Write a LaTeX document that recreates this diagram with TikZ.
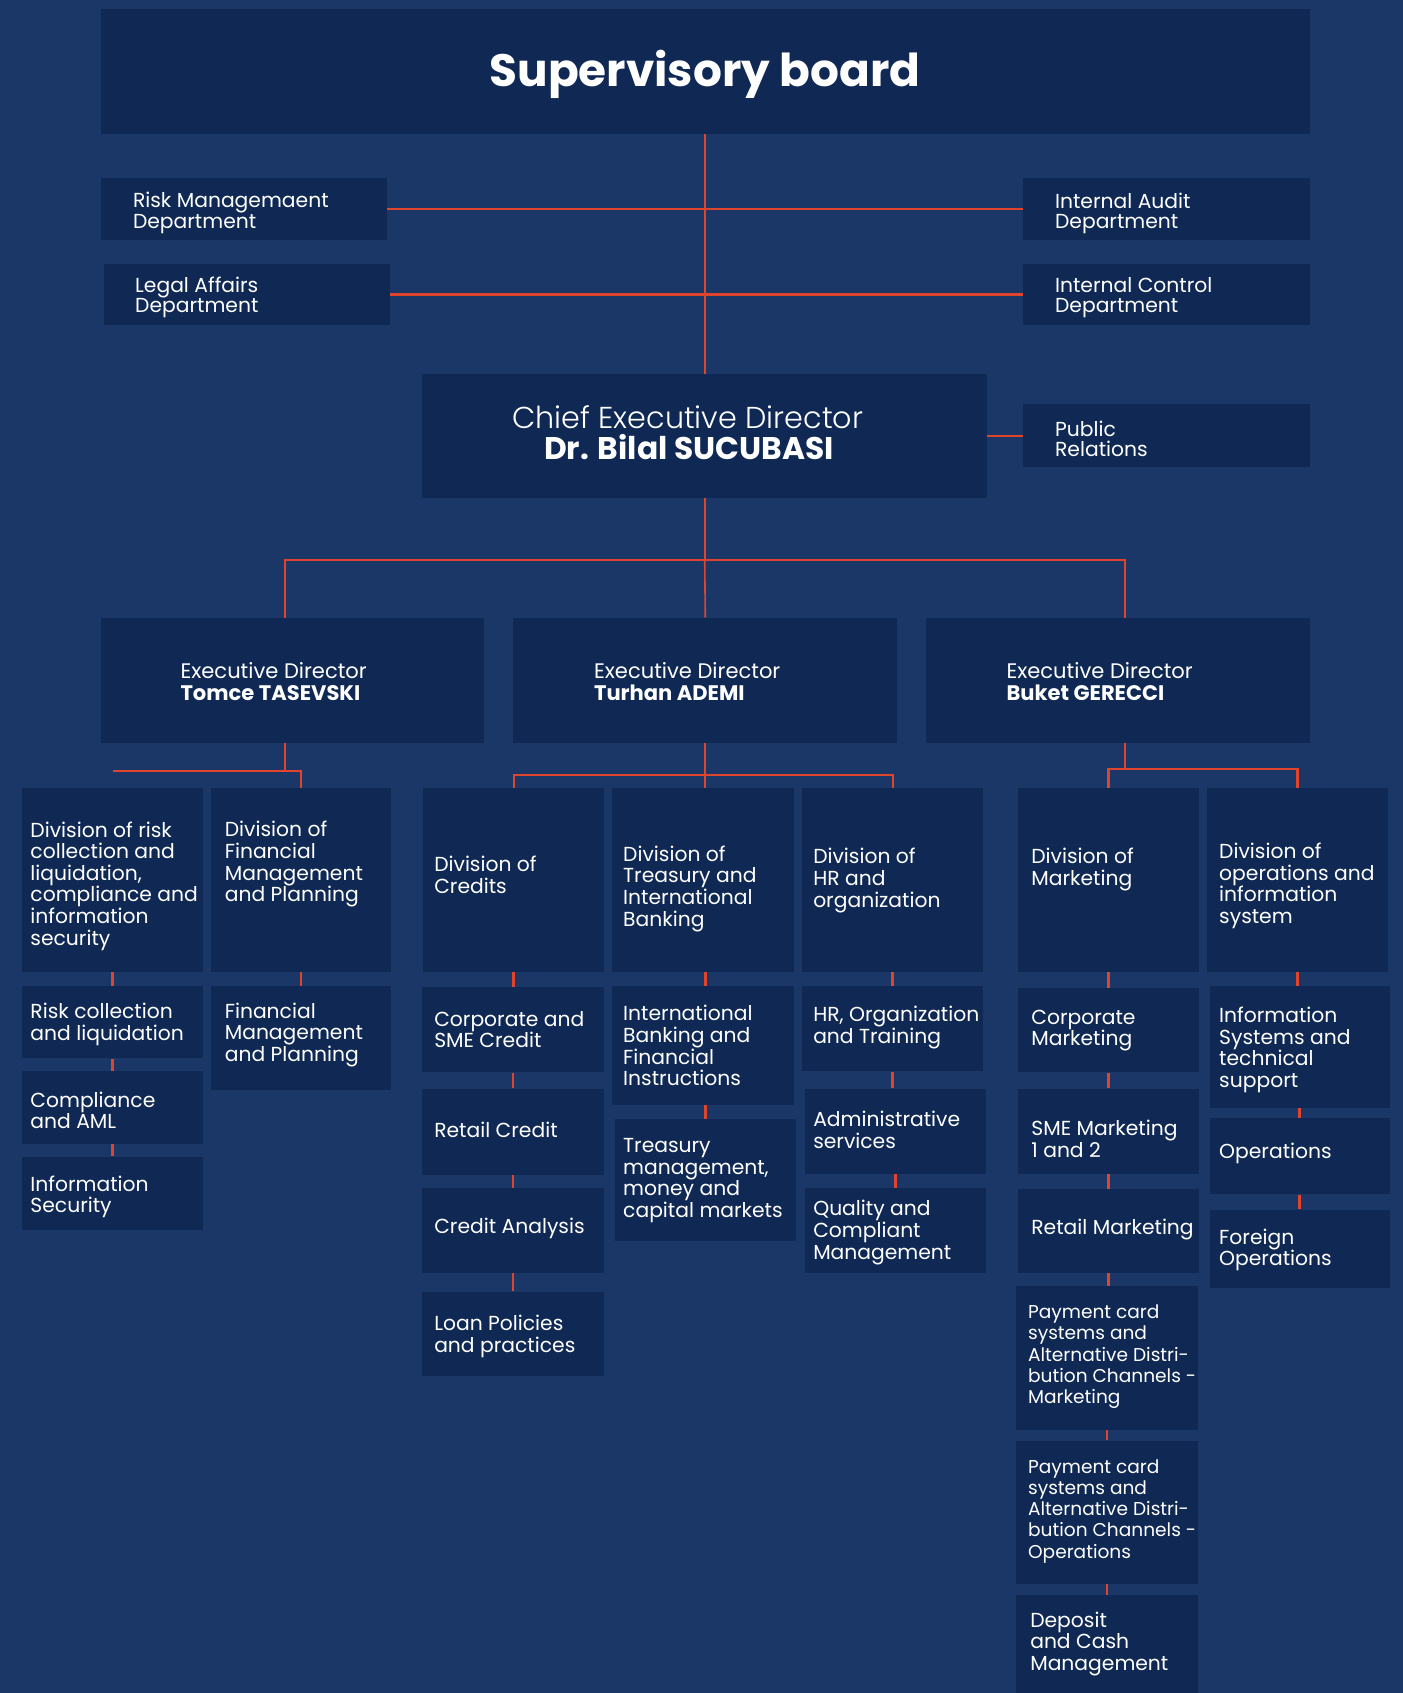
\documentclass[tikz,border=0pt]{standalone}
\usepackage{fontspec}
\setmainfont{Poppins}
\IfFontExistsTF{Poppins Light}{\newfontfamily\lightfont{Poppins Light}}{\newfontfamily\lightfont{Poppins}}
\usetikzlibrary{calc}
\definecolor{bgc}{RGB}{27,55,103}
\definecolor{boxc}{RGB}{15,41,84}
\definecolor{redc}{RGB}{224,68,42}
\newcommand\Bx[5]{\node[box,minimum width=#4pt,minimum height=#5pt] (#1) at (#2,#3) {};}
\newcommand\Tx[4]{\node[txt] (#1) at (#2,#3) {#4};}
\newcommand\Ts[4]{\node[txt,font=\fontsize{17.2}{19.7}\selectfont] (#1) at (#2,#3) {#4};}
\newcommand\Tt[4]{\node[txt,font=\fontsize{18.8}{18}\selectfont] (#1) at (#2,#3) {#4};}
\begin{document}
\begin{tikzpicture}[x=1pt,y=-1pt,
  box/.style={fill=boxc,draw=none,inner sep=0pt,anchor=north west},
  txt/.style={text=white,align=left,inner sep=0pt,anchor=west,yshift=-2.5pt,font=\fontsize{18.8}{20}\selectfont},
  trunk/.style={draw=redc,line width=1.5pt},
  ln/.style={draw=redc,line width=2pt},
  stub/.style={draw=redc,line width=2.6pt}]
\fill[bgc] (0,0) rectangle (1299,1568);
\useasboundingbox (0,0) rectangle (1299,1568);
% boxes
\Bx{sup}{93}{8}{1120}{116}
\Bx{risk}{93}{165}{265}{57}
\Bx{legal}{96}{244}{265}{57}
\Bx{audit}{947}{165}{266}{57}
\Bx{ctrl}{947}{244}{266}{57}
\Bx{ceo}{391}{346}{523}{115}
\Bx{pr}{947}{374}{266}{58}
\Bx{edA}{93}{572}{355}{116}
\Bx{edB}{475}{572}{356}{116}
\Bx{edC}{857}{572}{356}{116}
\Bx{dA}{20}{730}{168}{170}
\Bx{dB}{195}{730}{167}{170}
\Bx{dC}{392}{730}{167}{170}
\Bx{dD}{567}{730}{168}{170}
\Bx{dE}{743}{730}{167}{170}
\Bx{dF}{943}{730}{167}{170}
\Bx{dG}{1118}{730}{167}{170}
\Bx{A1}{20}{913}{168}{67}
\Bx{A2}{20}{992}{168}{67}
\Bx{A3}{20}{1071}{168}{68}
\Bx{B1}{195}{913}{167}{96}
\Bx{C1}{391}{914}{168}{79}
\Bx{C2}{391}{1008}{168}{80}
\Bx{C3}{391}{1100}{168}{79}
\Bx{C4}{391}{1196}{168}{78}
\Bx{D1}{567}{913}{168}{110}
\Bx{D2}{569}{1036}{168}{113}
\Bx{E1}{743}{913}{167}{79}
\Bx{E2}{745}{1008}{168}{79}
\Bx{E3}{745}{1100}{168}{79}
\Bx{F1}{943}{915}{167}{78}
\Bx{F2}{943}{1008}{167}{79}
\Bx{F3}{943}{1101}{167}{78}
\Bx{F4}{941}{1191}{168}{133}
\Bx{F5}{941}{1334}{168}{133}
\Bx{F6}{941}{1477}{168}{91}
\Bx{G1}{1120}{913}{167}{113}
\Bx{G2}{1120}{1035}{167}{71}
\Bx{G3}{1120}{1120}{167}{73}
% top connectors
\draw[trunk] (sup.south) -- (sup.south |- ceo.north);
\draw[ln] (risk.east) -- (risk.east -| audit.west);
\draw[ln] (legal.east) -- (legal.east -| ctrl.west);
\draw[ln] (ceo.east) -- (ceo.east -| pr.west);
\draw[trunk] (ceo.south) -- ++(0,57) coordinate (bus);
\draw[ln] ([xshift=-6.5pt]edA.north) |- (bus) -| ([xshift=7pt]edC.north);
\draw[trunk] (bus) -- (edB.north);
% executive director connectors
\draw[ln] ([xshift=-6.5pt]edA.south) -- ++(0,26) coordinate (e1);
\draw[ln] (dA.north |- e1) -- (dB.north |- e1) -- (dB.north);
\draw[ln] (edB.south) -- ++(0,29) coordinate (e2);
\draw[ln] (dC.north) |- (e2) -| (dE.north);
\draw[ln] (e2) -- (e2 |- dD.north);
\draw[ln] ([xshift=7pt]edC.south) -- ++(0,24) coordinate (e3);
\draw[ln] (dF.north) |- (e3) -| (dG.north);
% stubs
\foreach \u/\v in {dA/A1,A1/A2,A2/A3,dB/B1,dC/C1,C1/C2,C2/C3,C3/C4,dE/E1,E1/E2,E2/E3,dF/F1,F1/F2,F2/F3,F3/F4,F4/F5,F5/F6,dG/G1,G1/G2,G2/G3}
  \draw[stub] (\u.south) -- (\u.south |- \v.north);
\draw[stub] ([xshift=2pt]dD.south) -- ([xshift=2pt]dD.south |- D1.north);
\draw[stub] ([xshift=2pt]D1.south) -- ([xshift=2pt]D1.south |- D2.north);
% texts
\node[text=white,inner sep=0pt,anchor=base,font=\bfseries\fontsize{42}{42}\selectfont] (supT) at (653,80) {Supervisory board};
\Tt{riskT}{123}{195}{Risk Managemaent\\Department}
\Tt{legalT}{125}{273}{Legal Affairs\\Department}
\Tt{auditT}{977}{195}{Internal Audit\\Department}
\Tt{ctrlT}{977}{273}{Internal Control\\Department}
\Tt{prT}{977}{404}{Public\\Relations}
\node[text=white,inner sep=0pt,anchor=base,font=\lightfont\fontsize{28}{28}\selectfont] (ceoA) at (637,397) {Chief Executive Director};
\node[text=white,inner sep=0pt,anchor=base,font=\bfseries\fontsize{29}{29}\selectfont] (ceoB) at (638,426) {Dr. Bilal SUCUBASI};
\node[txt,yshift=0pt,font=\fontsize{19.5}{20}\selectfont] (edAT) at (167,629) {Executive Director\\\textbf{Tomce TASEVSKI}};
\node[txt,yshift=0pt,font=\fontsize{19.5}{20}\selectfont] (edBT) at (550,629) {Executive Director\\\textbf{Turhan ADEMI}};
\node[txt,yshift=0pt,font=\fontsize{19.5}{20}\selectfont] (edCT) at (932,629) {Executive Director\\\textbf{Buket GERECCI}};
\Tx{dAT}{28}{818}{Division of risk\\collection and\\liquidation,\\compliance and\\information\\security}
\Tx{dBT}{208}{798}{Division of\\Financial\\Management\\and Planning}
\Tx{dCT}{402}{808}{Division of\\Credits}
\Tx{dDT}{577}{820.5}{Division of\\Treasury and\\International\\Banking}
\Tx{dET}{753}{813}{Division of\\HR and\\organization}
\Tx{dFT}{955}{803}{Division of\\Marketing}
\Tx{dGT}{1129}{818}{Division of\\operations and\\information\\system}
\Tx{A1T}{28}{946}{Risk collection\\and liquidation}
\Tx{A2T}{28}{1026}{Compliance\\and AML}
\Tx{A3T}{28}{1106}{Information\\Security}
\Tx{B1T}{208}{956}{Financial\\Management\\and Planning}
\Tx{C1T}{402}{951}{Corporate and\\SME Credit}
\Tx{C2T}{402}{1044}{Retail Credit}
\Tx{C3T}{402}{1135}{Credit Analysis}
\Tx{C4T}{402}{1235}{Loan Policies\\and practices}
\Tx{D1T}{577}{966}{International\\Banking and\\Financial\\Instructions}
\Tx{D2T}{577}{1091}{Treasury\\management,\\money and\\capital markets}
\Tx{E1T}{753}{949}{HR, Organization\\and Training}
\Tx{E2T}{753}{1044}{Administrative\\services}
\Tx{E3T}{753}{1139}{Quality and\\Compliant\\Management}
\Tx{F1T}{955}{952}{Corporate\\Marketing}
\Tx{F2T}{955}{1052}{SME Marketing\\1 and 2}
\Tx{F3T}{955}{1136}{Retail Marketing}
\Ts{F4T}{952}{1254}{Payment card\\systems and\\Alternative Distri-\\bution Channels -\\Marketing}
\Ts{F5T}{952}{1397}{Payment card\\systems and\\Alternative Distri-\\bution Channels -\\Operations}
\Tx{F6T}{954}{1520}{Deposit\\and Cash\\Management}
\Tx{G1T}{1129}{970}{Information\\Systems and\\technical\\support}
\Tx{G2T}{1129}{1066}{Operations}
\Tx{G3T}{1129}{1155}{Foreign\\Operations}
\end{tikzpicture}
\end{document}
